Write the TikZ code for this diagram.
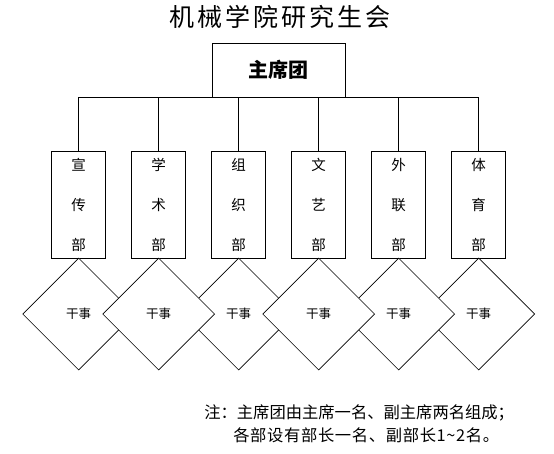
\documentclass[tikz,border=0pt]{standalone}
\usepackage{fontspec}
\setmainfont{Noto Sans CJK SC}
\newfontfamily\cjk{Noto Sans CJK SC}
\usetikzlibrary{shapes.geometric}
\begin{document}
\begin{tikzpicture}[x=1pt,y=-1pt,
  line width=0.6pt,
  topbox/.style={draw, minimum width=133pt, minimum height=54pt, inner sep=0pt, font=\cjk\fontsize{20}{24}\selectfont\bfseries},
  dept/.style={draw, minimum width=54pt, minimum height=107pt, inner sep=0pt, align=center, font=\cjk\fontsize{14.5}{40}\selectfont},
  diam/.style={draw, fill=white, diamond, aspect=1, minimum width=112pt, minimum height=112pt, inner sep=0pt, font=\cjk\fontsize{12.5}{14}\selectfont},
  title/.style={font=\cjk\addfontfeature{LetterSpace=12}\fontsize{25}{30}\selectfont},
  note/.style={font=\cjk\fontsize{16.3}{18}\selectfont, anchor=west, inner sep=0pt}
]
\useasboundingbox (0,0) rectangle (554,453);
\node[title] (t) at (280,17) {机械学院研究生会};
\node[topbox] (top) at (278.4,70) {主席团};
\node[dept] (d1) at (78.7,204.5) {宣\\传\\部};
\node[dept] (d2) at (158.7,204.5) {学\\术\\部};
\node[dept] (d3) at (238.7,204.5) {组\\织\\部};
\node[dept] (d4) at (318.7,204.5) {文\\艺\\部};
\node[dept] (d5) at (398.7,204.5) {外\\联\\部};
\node[dept] (d6) at (478.7,204.5) {体\\育\\部};
\draw (d1.north) |- (top.south) -| (d6.north);
\foreach \i in {2,3,4,5} \draw (d\i.north) -- (d\i.north |- top.south);
\node[diam] (g1) at (78.7,314) {干事};
\node[diam] (g3) at (238.7,314) {干事};
\node[diam] (g6) at (478.7,314) {干事};
\node[diam] (g5) at (398.7,314) {干事};
\node[diam] (g2) at (158.7,314) {干事};
\node[diam] (g4) at (318.7,314) {干事};
\node[note] (n1) at (204,413) {注：主席团由主席一名、副主席两名组成；};
\node[note, font=\cjk\addfontfeature{LetterSpace=4}\fontsize{16.3}{18}\selectfont] (n2) at (233,435) {各部设有部长一名、副部长1\textasciitilde2名。};
\end{tikzpicture}
\end{document}
